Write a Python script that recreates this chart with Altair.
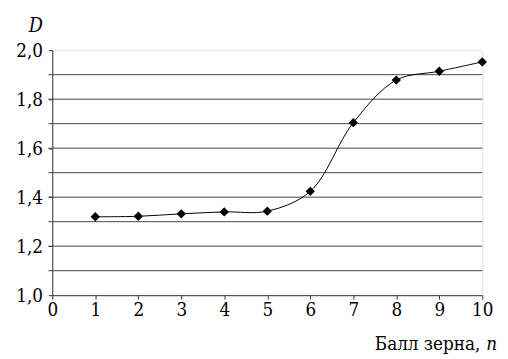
import altair as alt
import pandas as pd

n_vals = [1, 2, 3, 4, 5, 6, 7, 8, 9, 10]
d_vals = [1.32, 1.322, 1.332, 1.34, 1.343, 1.424, 1.704, 1.878, 1.914, 1.952]
grid_vals = [1.1, 1.2, 1.3, 1.4, 1.5, 1.6, 1.7, 1.8, 1.9]
y_labels = [1.0, 1.2, 1.4, 1.6, 1.8, 2.0]
x_ticks = [0, 1, 2, 3, 4, 5, 6, 7, 8, 9, 10]

df = pd.DataFrame({"n": n_vals, "D": d_vals})
gdf = pd.DataFrame({"g": grid_vals})

FONT = "DejaVu Serif Condensed, DejaVu Serif"
W, H = 437, 249

yscale = alt.Scale(domain=[1.0, 2.0], nice=False, zero=False)

x_enc = alt.X("n:Q", scale=alt.Scale(domain=[0, 10], nice=False),
              axis=alt.Axis(values=x_ticks, title=None, grid=False, labelFont=FONT,
                            labelFontSize=19, labelColor="black", tickColor="#333",
                            domainColor="#333", tickSize=4, labelPadding=2, labelFlush=False))
y_enc = alt.Y("D:Q", scale=yscale,
              axis=alt.Axis(values=y_labels, title=None, grid=False, labelFont=FONT,
                            labelFontSize=19, labelColor="black",
                            tickColor="#333", domainColor="#333", tickSize=4, labelPadding=6,
                            labelFlush=False,
                            labelExpr="replace(format(datum.value,'.1f'),'.',',')"))

grid = alt.Chart(gdf).mark_rule(color="#444", strokeWidth=1).encode(
    y=alt.Y("g:Q", scale=yscale), x=alt.value(-4), x2=alt.value(W))

base = alt.Chart(df)
line = base.mark_line(color="black", strokeWidth=1, interpolate="catmull-rom").encode(x=x_enc, y=y_enc)
pts = base.mark_point(shape="diamond", filled=True, color="black", size=90, opacity=1).encode(x="n:Q", y="D:Q")

lab = pd.DataFrame({"t": ["D"]})
d_title = alt.Chart(lab).mark_text(font=FONT, fontSize=20, fontStyle="italic", align="left",
                                   baseline="alphabetic", color="black").encode(
    x=alt.value(-24), y=alt.value(-18), text="t:N")

xt = pd.DataFrame({"t": ["Балл зерна,"]})
x_title = alt.Chart(xt).mark_text(font=FONT, fontSize=19, align="right", baseline="alphabetic",
                                  color="black").encode(x=alt.value(435), y=alt.value(305), text="t:N")
xn = pd.DataFrame({"t": ["n"]})
x_n = alt.Chart(xn).mark_text(font=FONT, fontSize=19, fontStyle="italic", align="left",
                              baseline="alphabetic", color="black").encode(x=alt.value(441), y=alt.value(305), text="t:N")

chart = alt.layer(grid, line, pts, d_title, x_title, x_n).properties(
    width=W, height=H,
    autosize=alt.AutoSizeParams(type="none"),
    padding={"left": 45, "top": 40, "right": 18, "bottom": 62},
).configure_view(stroke="#888", strokeWidth=1).configure(background="white", font=FONT)

chart.save("out.html", embed_options={"renderer": "svg", "actions": False})
